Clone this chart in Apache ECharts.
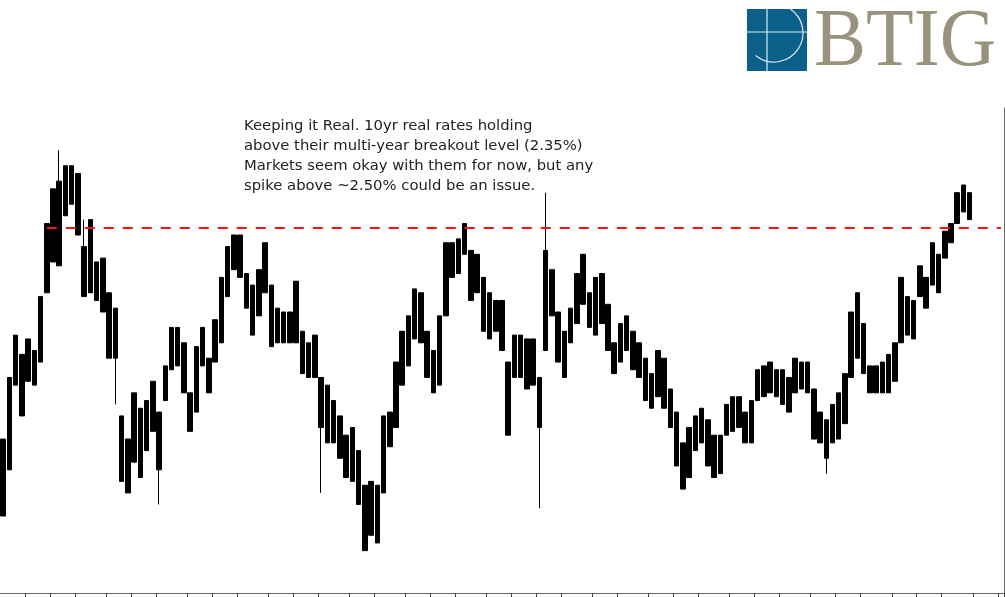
<!DOCTYPE html>
<html>
<head>
<meta charset="utf-8">
<script src="https://cdn.jsdelivr.net/npm/echarts@6/dist/echarts.min.js"></script>
<style>
html,body{margin:0;padding:0;background:#fff;}
#c{width:1005px;height:597px;}
</style>
</head>
<body>
<div id="c"></div>
<script>
// Weekly buckets (Thursday of each week), Aug 2023 onward
const startThursday = '2023-08-10';
const weekCount = 161;

// Weekly trading range (body) of the 10yr real rate (%)
const weekHigh = [1.80,1.96,2.07,2.02,2.06,2.03,2.17,2.36,2.45,2.47,
  2.51,2.51,2.49,2.30,2.37,2.26,2.27,2.18,2.14,1.86,
  1.80,1.92,1.88,1.90,1.95,1.87,1.99,2.09,2.09,2.05,
  1.92,2.04,2.09,2.01,2.11,2.22,2.30,2.33,2.33,2.23,
  2.20,2.24,2.31,2.20,2.14,2.13,2.13,2.21,2.08,2.05,
  2.07,1.96,1.94,1.90,1.86,1.81,1.83,1.77,1.68,1.69,
  1.68,1.86,1.87,2.00,2.08,2.12,2.19,2.18,2.08,2.03,
  2.12,2.31,2.31,2.32,2.36,2.29,2.28,2.22,2.18,2.16,
  2.16,2.00,2.07,2.07,2.06,2.06,1.96,2.29,2.24,2.13,
  2.08,2.14,2.23,2.28,2.18,2.22,2.23,2.15,2.05,2.10,
  2.12,2.08,2.05,2.01,1.97,2.03,2.01,1.93,1.87,1.79,
  1.83,1.86,1.88,1.85,1.81,1.81,1.89,1.91,1.91,1.87,
  1.90,1.98,1.99,2.00,1.98,1.98,1.96,2.01,2.00,2.00,
  1.93,1.87,1.85,1.89,1.92,1.97,2.13,2.18,2.10,1.99,
  1.99,2.00,2.02,2.05,2.22,2.17,2.16,2.25,2.22,2.31,
  2.28,2.34,2.36,2.44,2.46,2.44];
const weekLow = [1.60,1.72,1.94,1.86,1.95,1.94,2.00,2.18,2.26,2.25,
  2.38,2.41,2.33,2.17,2.18,2.16,2.13,2.01,2.01,1.69,
  1.66,1.74,1.70,1.77,1.82,1.72,1.90,1.98,1.99,1.92,
  1.82,1.87,1.99,1.92,2.00,2.05,2.17,2.24,2.22,2.14,
  2.07,2.12,2.18,2.04,2.05,2.05,2.05,2.05,1.97,1.96,
  1.96,1.83,1.79,1.79,1.75,1.70,1.69,1.63,1.51,1.55,
  1.53,1.66,1.78,1.83,1.94,1.99,2.06,2.05,1.96,1.92,
  1.94,2.12,2.22,2.23,2.28,2.16,2.18,2.08,2.06,2.08,
  2.03,1.81,1.96,1.96,1.93,1.94,1.83,2.03,2.12,2.00,
  1.96,2.05,2.10,2.15,2.09,2.07,2.10,2.03,1.97,2.00,
  2.03,1.98,1.96,1.90,1.88,1.91,1.88,1.83,1.73,1.67,
  1.70,1.77,1.79,1.73,1.70,1.71,1.81,1.82,1.83,1.79,
  1.79,1.90,1.91,1.92,1.91,1.89,1.87,1.92,1.93,1.92,
  1.80,1.79,1.75,1.79,1.80,1.84,1.96,2.01,1.97,1.92,
  1.92,1.92,1.92,1.95,2.05,2.07,2.06,2.17,2.14,2.20,
  2.18,2.27,2.31,2.36,2.39,2.37];

// Intraweek spikes beyond the weekly body: [week index, extreme value]
const spikeHighs = [[9, 2.55], [13, 2.37], [87, 2.44]];
const spikeLows = [[18, 1.89], [25, 1.63], [51, 1.66], [86, 1.62], [132, 1.71]];

const breakoutLevel = 2.35;
const breakoutStartIndex = 7;
const noteText = 'Keeping it Real. 10yr real rates holding\nabove their multi-year breakout level (2.35%)\nMarkets seem okay with them for now, but any\nspike above ~2.50% could be an issue.';

// build category dates
const categories = [];
(function(){
  const d0 = new Date(startThursday + 'T00:00:00Z');
  for (let i = 0; i < weekCount; i++) {
    const d = new Date(d0.getTime() + i * 7 * 86400000);
    categories.push(d.toISOString().slice(0,10));
  }
})();
const extHigh = weekHigh.slice();
const extLow = weekLow.slice();
spikeHighs.forEach(([i, v]) => { extHigh[i] = Math.max(extHigh[i], v); });
spikeLows.forEach(([i, v]) => { extLow[i] = Math.min(extLow[i], v); });
const ohlc = categories.map((c, i) => i < weekHigh.length
  ? [weekLow[i], weekHigh[i], extLow[i], extHigh[i]] : '-');

const chart = echarts.init(document.getElementById('c'), null, {renderer:'canvas'});
chart.setOption({
  animation: false,
  backgroundColor: '#fff',
  grid: {left: 0, right: 1, top: 108, bottom: 4, containLabel: false},
  xAxis: {
    type: 'category',
    data: categories,
    boundaryGap: true,
    axisLine: {show: true, lineStyle: {color: '#6b6b6b', width: 1}},
    axisTick: {
      show: true, length: 5, alignWithLabel: false,
      lineStyle: {color: '#444', width: 1},
      interval: function (idx, val) {
        if (idx === 0) return false;
        return categories[idx].slice(5,7) !== categories[idx-1].slice(5,7);
      }
    },
    axisLabel: {show: false},
    splitLine: {show: false}
  },
  yAxis: {
    type: 'value',
    position: 'right',
    min: 1.4, max: 2.66,
    axisLine: {show: true, lineStyle: {color: '#6b6b6b', width: 1}},
    axisTick: {show: false},
    axisLabel: {show: false},
    splitLine: {show: false}
  },
  series: [{
    type: 'candlestick',
    data: ohlc,
    barWidth: 5,
    itemStyle: {color: '#000', color0: '#000', borderColor: '#000', borderColor0: '#000', borderWidth: 1},
    markLine: {
      silent: true,
      symbol: ['none', 'none'],
      label: {show: false},
      lineStyle: {color: '#ff1010', width: 2, type: [10, 9]},
      data: [[
        {coord: [categories[breakoutStartIndex], breakoutLevel]},
        {coord: [categories[weekCount - 1], breakoutLevel]}
      ]]
    }
  }],
  graphic: [
    {type: 'rect', shape: {x: 747, y: 9, width: 60, height: 62}, style: {fill: '#0b6089'}},
    {type: 'line', shape: {x1: 767, y1: 9, x2: 767, y2: 71}, style: {stroke: '#dfe9ef', lineWidth: 1.2}},
    {type: 'line', shape: {x1: 747, y1: 32, x2: 807, y2: 32}, style: {stroke: '#dfe9ef', lineWidth: 1.2}},
    {type: 'arc', shape: {cx: 774, cy: 33, r: 29, startAngle: -0.97, endAngle: 2.25, clockwise: true}, style: {stroke: '#dfe9ef', lineWidth: 1.2, fill: null}},
    {type: 'text', x: 814, y: 43, scaleX: 0.94, style: {text: 'BTIG', font: '83px "Liberation Serif"', fill: '#99937d', verticalAlign: 'middle'}},
    {type: 'text', x: 244, y: 116, style: {text: noteText, font: '14.8px "DejaVu Sans"', fill: '#222', lineHeight: 20, verticalAlign: 'top'}}
  ]
});
</script>
</body>
</html>
